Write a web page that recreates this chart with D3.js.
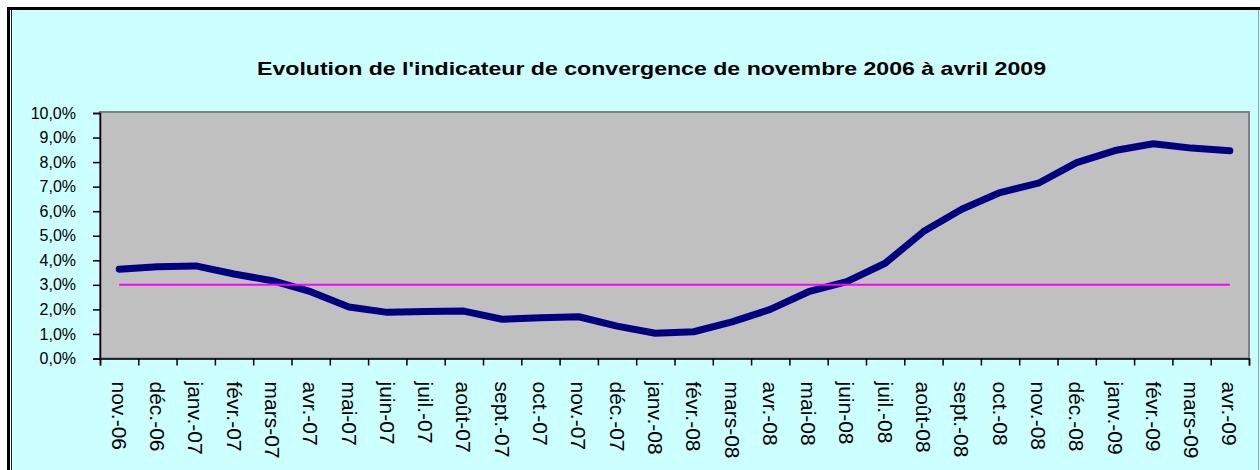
<!DOCTYPE html>
<html>
<head>
<meta charset="utf-8">
<script src="https://cdn.jsdelivr.net/npm/d3@7"></script>
<style>
  html, body { margin: 0; padding: 0; background: #ffffff; }
  svg { display: block; font-family: "Liberation Sans", Arial, sans-serif; }
</style>
</head>
<body>
<div id="chart"></div>
<script>
// months, nov 2006 -> avr 2009
const categories = [
  "nov.-06", "déc.-06", "janv.-07", "févr.-07", "mars-07", "avr.-07",
  "mai-07", "juin-07", "juil.-07", "août-07", "sept.-07", "oct.-07",
  "nov.-07", "déc.-07", "janv.-08", "févr.-08", "mars-08", "avr.-08",
  "mai-08", "juin-08", "juil.-08", "août-08", "sept.-08", "oct.-08",
  "nov.-08", "déc.-08", "janv.-09", "févr.-09", "mars-09", "avr.-09"
];
// indicateur de convergence (%)
const indicator = [
  3.64, 3.74, 3.77, 3.44, 3.17, 2.72,
  2.10, 1.88, 1.91, 1.93, 1.60, 1.66,
  1.70, 1.32, 1.03, 1.09, 1.49, 2.00,
  2.72, 3.13, 3.88, 5.17, 6.08, 6.76,
  7.14, 7.98, 8.47, 8.75, 8.57, 8.46
];
// seuil de 3 %
const threshold = categories.map(() => 3);
const yTicks = [0, 1, 2, 3, 4, 5, 6, 7, 8, 9, 10];
const title = "Evolution de l'indicateur de convergence de novembre 2006 à avril 2009";

const W = 1260, H = 470;
const plot = { left: 100, right: 1249, top: 113, bottom: 358.5 };

const svg = d3.select("#chart").append("svg")
  .attr("width", W)
  .attr("height", H);

// chart area background + borders
svg.append("rect")
  .attr("x", 7).attr("y", 7)
  .attr("width", W - 7).attr("height", H - 7)
  .attr("fill", "#ccffff");
svg.append("rect").attr("x", 7).attr("y", 7).attr("width", W - 7).attr("height", 3).attr("fill", "#000");
svg.append("rect").attr("x", 7).attr("y", 7).attr("width", 3).attr("height", H - 7).attr("fill", "#000");
svg.append("rect").attr("x", 10).attr("y", 10).attr("width", 1).attr("height", H - 10).attr("fill", "#fff");
svg.append("rect").attr("x", 11).attr("y", 10).attr("width", 1).attr("height", H - 10).attr("fill", "#222");
svg.append("rect").attr("x", W - 2).attr("y", 10).attr("width", 1).attr("height", H - 10).attr("fill", "#7fa9a9");

// title
svg.append("text")
  .attr("x", 257)
  .attr("y", 75)
  .attr("textLength", 789)
  .attr("lengthAdjust", "spacingAndGlyphs")
  .style("font-size", "19px")
  .style("font-weight", "bold")
  .attr("fill", "#000")
  .text(title);

// scales
const x = d3.scaleBand()
  .domain(categories)
  .range([plot.left, plot.right])
  .padding(0);
const xIdx = d3.scaleLinear()
  .domain([0, categories.length])
  .range([plot.left, plot.right]);
const y = d3.scaleLinear()
  .domain([0, 10])
  .range([plot.bottom, plot.top]);

// plot area
svg.append("rect")
  .attr("x", plot.left)
  .attr("y", plot.top - 1)
  .attr("width", plot.right - plot.left)
  .attr("height", plot.bottom - plot.top + 1)
  .attr("fill", "#c0c0c0")
  .attr("stroke", "#808080")
  .attr("stroke-width", 2);

// y axis
const yAxis = svg.append("g")
  .attr("transform", `translate(${plot.left},0)`)
  .call(d3.axisLeft(y)
    .tickValues(yTicks)
    .tickSize(7)
    .tickPadding(17)
    .tickFormat(d => d.toFixed(1).replace(".", ",") + "%"));
yAxis.select(".domain").attr("stroke", "#000").attr("stroke-width", 1.5);
yAxis.selectAll(".tick line").attr("stroke", "#000").attr("stroke-width", 1.5);
yAxis.selectAll(".tick text")
  .attr("fill", "#000")
  .style("font-size", "16px")
  .style("font-family", "'Liberation Sans', Arial, sans-serif");

// x axis: tick marks on category boundaries
const xTickAxis = svg.append("g")
  .attr("transform", `translate(0,${plot.bottom})`)
  .call(d3.axisBottom(xIdx)
    .tickValues(d3.range(categories.length + 1))
    .tickSize(7)
    .tickFormat(""));
xTickAxis.select(".domain").attr("stroke", "#000").attr("stroke-width", 1.5);
xTickAxis.selectAll(".tick line").attr("stroke", "#000").attr("stroke-width", 1.5);

// x axis labels, rotated
const xLabelAxis = svg.append("g")
  .attr("transform", `translate(0,${plot.bottom})`)
  .call(d3.axisBottom(x).tickSize(0).tickPadding(0));
xLabelAxis.select(".domain").remove();
xLabelAxis.selectAll(".tick text")
  .attr("fill", "#000")
  .style("font-size", "21px")
  .style("font-family", "'Liberation Sans', Arial, sans-serif")
  .attr("text-anchor", "start")
  .attr("x", 23)
  .attr("y", 0)
  .attr("dy", "0.35em")
  .attr("transform", "rotate(90)");

const cx = d => x(d) + x.bandwidth() / 2;

// indicator line
svg.append("path")
  .datum(indicator)
  .attr("fill", "none")
  .attr("stroke", "#000080")
  .attr("stroke-width", 7)
  .attr("stroke-linejoin", "round")
  .attr("stroke-linecap", "round")
  .attr("d", d3.line()
    .x((d, i) => cx(categories[i]))
    .y(d => y(d)));

// 3% threshold line
svg.append("path")
  .datum(threshold)
  .attr("fill", "none")
  .attr("stroke", "#ff00ff")
  .attr("stroke-width", 2)
  .attr("d", d3.line()
    .x((d, i) => cx(categories[i]))
    .y(d => y(d)));
</script>
</body>
</html>
